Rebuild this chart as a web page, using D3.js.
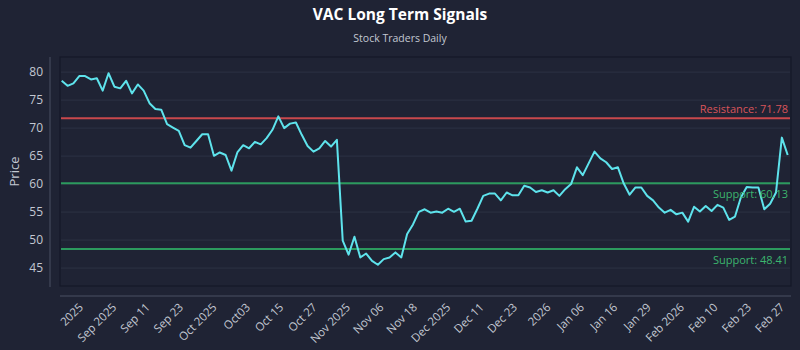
<!DOCTYPE html>
<html>
<head>
<meta charset="utf-8">
<script src="https://cdn.jsdelivr.net/npm/d3@7"></script>
<style>
  html, body { margin: 0; padding: 0; background: #1f2334; }
  svg { display: block; }
</style>
</head>
<body>
<svg id="chart" width="800" height="350"></svg>
<script>
// Daily closing prices, in order
const prices = [
  78.45, 77.55, 78.0, 79.3, 79.3, 78.7, 78.9, 76.7, 79.8, 77.4,
  77.1, 78.45, 76.2, 77.8, 76.7, 74.45, 73.4, 73.3, 70.7, 70.1,
  69.5, 66.95, 66.5, 67.7, 68.9, 68.9, 65.05, 65.65, 65.2, 62.4,
  65.65, 66.95, 66.4, 67.55,
  67.1, 68.2, 69.7, 72.1, 70.0, 70.8, 71.0, 68.8, 66.8, 65.8,
  66.4, 67.7, 66.7, 67.9, 49.9, 47.4, 50.6, 46.9, 47.6, 46.3,
  45.6, 46.6, 46.9, 47.8, 46.9, 51.1, 52.8, 55.05, 55.5, 54.9,
  55.1,
  54.9, 55.6, 55.05, 55.6, 53.3, 53.45, 55.6, 57.9, 58.3, 58.3,
  57.1, 58.5, 58.0, 58.0, 59.7, 59.4, 58.6, 58.9, 58.5, 58.9,
  57.9, 59.1, 60.0, 63.0, 61.6, 63.7, 65.8, 64.6, 63.9, 62.7,
  63.0,
  60.1, 58.1, 59.4, 59.4, 57.9, 57.1, 55.8, 54.9, 55.4, 54.6,
  54.9, 53.3, 55.95, 55.1, 56.1, 55.2, 56.3, 55.8, 53.6, 54.2,
  57.6, 59.5, 59.4, 59.4, 55.5, 56.5, 58.5, 68.3, 65.2
];

// Date labels shown along the bottom axis
const xLabels = [
  "2025", "Sep 2025", "Sep 11", "Sep 23", "Oct 2025", "Oct03", "Oct 15",
  "Oct 27", "Nov 2025", "Nov 06", "Nov 18", "Dec 2025", "Dec 11", "Dec 23",
  "2026", "Jan 06", "Jan 16", "Jan 29", "Feb 2026", "Feb 10", "Feb 23", "Feb 27"
];

const yTicks = [45, 50, 55, 60, 65, 70, 75, 80];

// Signal levels
const levelNames = ["Resistance", "Support", "Support"];
const levelValues = [71.78, 60.13, 48.41];
const levelKinds = ["resistance", "support", "support"];

const W = 800, H = 350;
const plot = { left: 60, right: 791, top: 57, bottom: 286 };

const svg = d3.select("#chart");
const font = "'Open Sans', 'DejaVu Sans', sans-serif";

// Title and subtitle
svg.append("text")
  .attr("x", W / 2).attr("y", 20)
  .attr("text-anchor", "middle")
  .attr("fill", "#ffffff")
  .attr("font-family", font)
  .attr("font-size", 15.5)
  .attr("font-weight", 700)
  .text("VAC Long Term Signals");

svg.append("text")
  .attr("x", W / 2).attr("y", 42)
  .attr("text-anchor", "middle")
  .attr("fill", "#c3c8d2")
  .attr("font-family", font)
  .attr("font-size", 10.5)
  .text("Stock Traders Daily");

// Scales
const x = d3.scaleLinear()
  .domain([0, prices.length - 1])
  .range([plot.left + 1.7, plot.right - 3.3]);

const y = d3.scaleLinear()
  .domain([41.8, 82.7])
  .range([plot.bottom, plot.top]);

// Bottom labels are spread evenly, ending at the last trading day
const xl = d3.scalePoint()
  .domain(xLabels)
  .range([x(4.2), x(prices.length - 1)]);

// Plot frame
svg.append("rect")
  .attr("x", plot.left).attr("y", plot.top)
  .attr("width", plot.right - plot.left)
  .attr("height", plot.bottom - plot.top)
  .attr("fill", "#1f2334")
  .attr("stroke", "#141828")
  .attr("stroke-width", 1.2);

// Horizontal grid
svg.append("g")
  .selectAll("line")
  .data(yTicks)
  .join("line")
  .attr("x1", plot.left + 1).attr("x2", plot.right - 1)
  .attr("y1", d => y(d)).attr("y2", d => y(d))
  .attr("stroke", "#2c3244")
  .attr("stroke-width", 1);

// Left axis
const yAxis = svg.append("g")
  .attr("transform", "translate(50,0)")
  .call(d3.axisLeft(y).tickValues(yTicks).tickSize(0).tickPadding(7));
yAxis.select(".domain")
  .attr("d", `M0,${plot.top}V${plot.bottom + 1}`)
  .attr("stroke", "#4a5063");
yAxis.selectAll("text")
  .attr("fill", "#c3c8d2")
  .attr("font-family", font)
  .attr("font-size", 12);

svg.append("text")
  .attr("transform", `translate(19,${(plot.top + plot.bottom) / 2}) rotate(-90)`)
  .attr("text-anchor", "middle")
  .attr("fill", "#c3c8d2")
  .attr("font-family", font)
  .attr("font-size", 13)
  .text("Price");

// Bottom axis
const xAxis = svg.append("g")
  .attr("transform", "translate(0,296)")
  .call(d3.axisBottom(xl).tickSize(0).tickPadding(0));
xAxis.select(".domain")
  .attr("d", `M${plot.left},0H${plot.right}`)
  .attr("stroke", "#4a5063");
xAxis.selectAll("text")
  .attr("fill", "#c3c8d2")
  .attr("font-family", font)
  .attr("font-size", 11.5)
  .attr("text-anchor", "end")
  .attr("dy", null)
  .attr("y", 0)
  .attr("transform", "translate(-3,12) rotate(-45)");

// Signal level lines
const levelColor = { resistance: "#c9484c", support: "#2c9a5e" };
const levelText = { resistance: "#d9545a", support: "#3cb56e" };

const levels = levelValues.map((v, i) => ({ name: levelNames[i], value: v, kind: levelKinds[i] }));

svg.append("g")
  .selectAll("line")
  .data(levels)
  .join("line")
  .attr("x1", plot.left + 1).attr("x2", plot.right - 1)
  .attr("y1", d => y(d.value)).attr("y2", d => y(d.value))
  .attr("stroke", d => levelColor[d.kind])
  .attr("stroke-width", 2);

// Price line
svg.append("path")
  .datum(prices)
  .attr("fill", "none")
  .attr("stroke", "#5ee3ec")
  .attr("stroke-width", 2)
  .attr("stroke-linejoin", "round")
  .attr("d", d3.line().x((d, i) => x(i)).y(d => y(d)));

// Level labels
svg.append("g")
  .selectAll("text")
  .data(levels)
  .join("text")
  .attr("x", plot.right - 3)
  .attr("y", d => d.kind === "resistance" ? y(d.value) - 5 : y(d.value) + 15)
  .attr("text-anchor", "end")
  .attr("fill", d => levelText[d.kind])
  .attr("font-family", font)
  .attr("font-size", 11)
  .text(d => `${d.name}: ${d.value.toFixed(2)}`);
</script>
</body>
</html>
